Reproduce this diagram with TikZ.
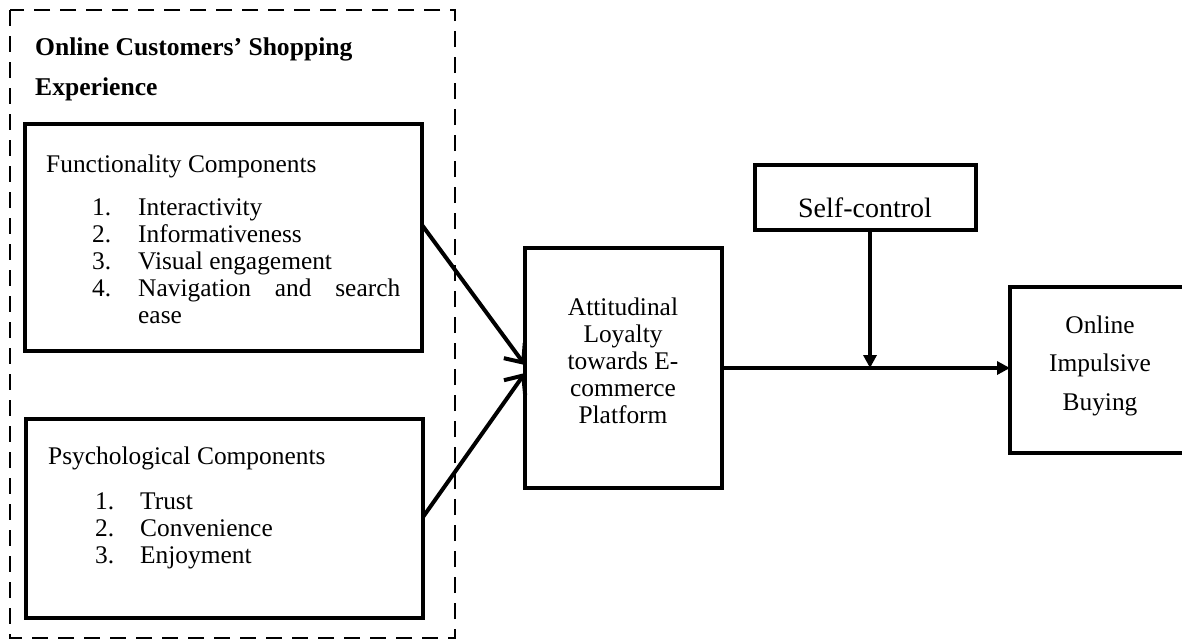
\documentclass[tikz,border=0pt]{standalone}
\usepackage{fontspec}
\setmainfont{Liberation Serif}
\usetikzlibrary{arrows.meta}
\begin{document}
\begin{tikzpicture}[x=1pt,y=-1pt,
  box/.style={draw, line width=4.5pt, inner sep=0pt, outer sep=0pt},
  txt/.style={inner sep=0pt, font=\fontsize{25.4}{27}\selectfont},
  link/.style={line width=4pt},
  barb/.style={-{Straight Barb[length=15pt,width=26pt]}},
  tri/.style={-{Triangle[length=13pt,width=13pt]}},
  dashbox/.style={draw, line width=2pt, dash pattern=on 16pt off 10pt}]
\clip (0,0) rectangle (1182,641);
\fill[white] (0,0) rectangle (1182,641);
\draw[dashbox] (10,10) rectangle (455,638);
% boxes
\node[box, minimum width=397pt, minimum height=227pt] (fb) at (223.5,237.5) {};
\node[box, minimum width=397pt, minimum height=199pt] (pb) at (224.5,518.5) {};
\node[box, minimum width=197pt, minimum height=240pt] (ab) at (623.5,368) {};
\node[box, minimum width=221pt, minimum height=65pt] (sb) at (865.5,197.5) {};
\node[box, minimum width=190pt, minimum height=166pt] (ob) at (1105,370) {};
% texts
\node[txt, font=\bfseries\fontsize{25.6}{40}\selectfont, anchor=north west, align=left] (title) at (35,37.5) {Online Customers' Shopping\\Experience};
\node[txt, anchor=base west] (ftitle) at (46,172) {Functionality Components};
\node[txt, anchor=north west, align=left] (flist) at (92,198) {\makebox[46pt][l]{1.}Interactivity\\
\makebox[46pt][l]{2.}Informativeness\\
\makebox[46pt][l]{3.}Visual engagement\\
\makebox[46pt][l]{4.}\makebox[262pt][s]{Navigation\hfill and\hfill search}\\
\hspace*{46pt}ease};
\node[txt, anchor=base west] (ptitle) at (48,464) {Psychological Components};
\node[txt, anchor=north west, align=left] (plist) at (95,493) {\makebox[45pt][l]{1.}Trust\\
\makebox[45pt][l]{2.}Convenience\\
\makebox[45pt][l]{3.}Enjoyment};
\node[txt, anchor=north, align=center] (atext) at (623,297.5) {Attitudinal\\Loyalty\\towards E-\\commerce\\Platform};
\node[txt, font=\fontsize{28}{30}\selectfont, anchor=base] (stext) at (865,217) {Self-control};
\node[txt, font=\fontsize{25.4}{38.5}\selectfont, anchor=north, align=center] (otext) at (1100,315.5) {Online\\Impulsive\\Buying};
% connectors
\draw[link, barb] ([yshift=12.5pt]fb.east) -- ([yshift=3pt]ab.west);
\draw[link, barb] ([yshift=1.5pt]pb.east) -- ([yshift=-5pt]ab.west);
\draw[link, tri] (ab.east) -- (ab.east -| ob.west);
\draw[link, tri] ([xshift=4.5pt]sb.south) -- ([xshift=4.5pt]sb.south |- ab.east);
\end{tikzpicture}
\end{document}
